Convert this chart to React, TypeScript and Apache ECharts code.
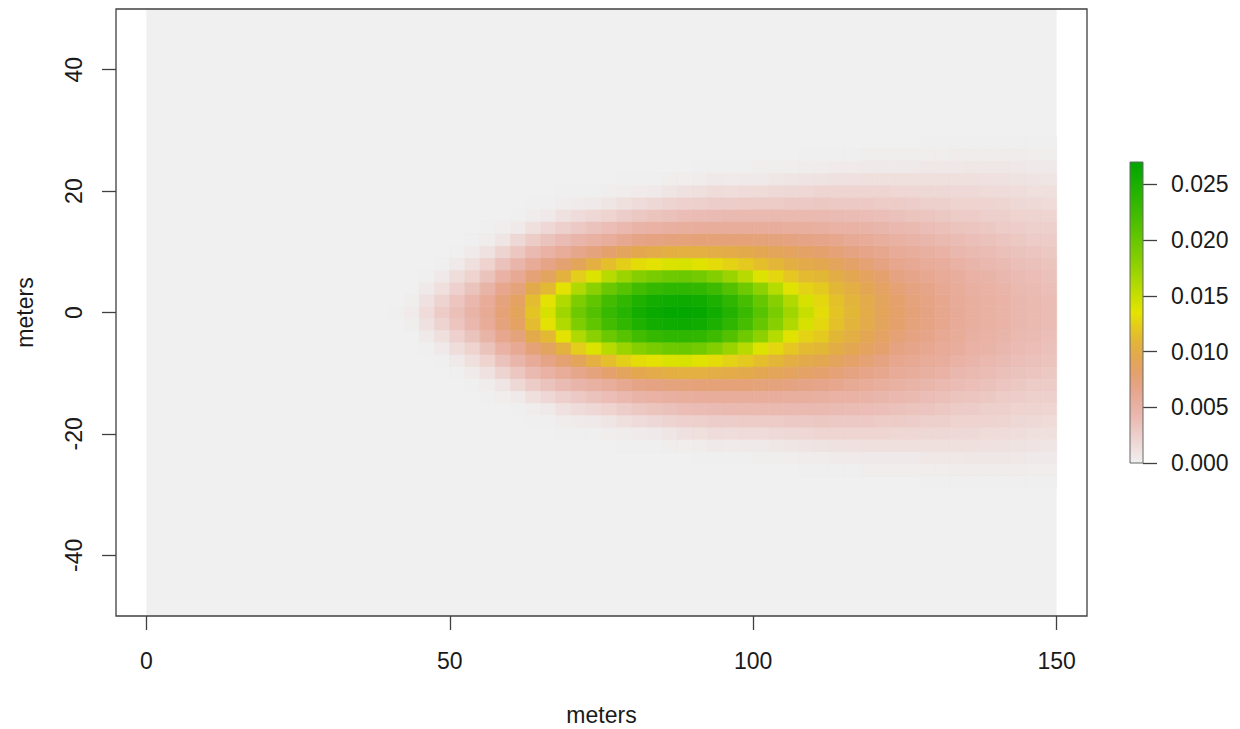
import React, { useEffect, useRef } from 'react';
import * as echarts from 'echarts';

// ---- data ----
// raster columns (cell centres, metres along x)
const X_CENTERS = [
  41.25, 43.75, 46.25, 48.75, 51.25, 53.75, 56.25, 58.75, 61.25, 63.75, 66.25,
  68.75, 71.25, 73.75, 76.25, 78.75, 81.25, 83.75, 86.25, 88.75, 91.25, 93.75,
  96.25, 98.75, 101.25, 103.75, 106.25, 108.75, 111.25, 113.75, 116.25, 118.75,
  121.25, 123.75, 126.25, 128.75, 131.25, 133.75, 136.25, 138.75, 141.25, 143.75,
  146.25, 148.75,
];
// raster rows of the upper half (cell centres, metres along y); the plume is symmetric about y = 0
const Y_HALF = [0, 2, 4, 6, 8, 10, 12, 14, 16, 18, 20, 22, 24, 26, 28, 30, 32];
// values in units of 0.0001, one line per column, from y = 0 outwards (missing = 0)
const PROFILES: number[][] = [
  [1],
  [4, 2],
  [15, 11, 5, 1],
  [27, 21, 12, 5, 1],
  [36, 32, 23, 14, 5, 1],
  [47, 44, 34, 22, 12, 4, 1],
  [60, 57, 47, 34, 22, 11, 3, 1],
  [76, 73, 64, 50, 35, 21, 8, 2],
  [90, 86, 74, 61, 46, 31, 18, 5, 1],
  [118, 113, 98, 76, 58, 42, 27, 12, 3, 1],
  [142, 134, 111, 88, 68, 50, 34, 19, 5, 1],
  [169, 160, 134, 106, 78, 57, 40, 24, 11, 3, 1],
  [196, 187, 161, 123, 91, 65, 46, 29, 15, 4, 1],
  [212, 204, 180, 139, 104, 73, 51, 34, 19, 5, 1],
  [230, 222, 198, 157, 115, 80, 56, 38, 22, 8, 2],
  [241, 233, 210, 171, 124, 89, 62, 43, 26, 12, 3, 1],
  [255, 247, 223, 183, 131, 96, 68, 47, 30, 15, 4, 1],
  [263, 255, 231, 190, 134, 99, 70, 50, 33, 18, 5, 1],
  [267, 259, 235, 196, 140, 103, 73, 52, 35, 21, 8, 2],
  [268, 260, 236, 197, 141, 104, 74, 54, 38, 23, 11, 2],
  [265, 257, 233, 193, 137, 104, 75, 55, 39, 24, 13, 3, 1],
  [257, 249, 225, 184, 131, 102, 75, 56, 40, 26, 15, 5, 1],
  [244, 236, 212, 172, 126, 100, 75, 56, 41, 26, 14, 4, 1],
  [228, 220, 196, 157, 121, 98, 75, 56, 41, 27, 15, 5, 1],
  [209, 201, 178, 139, 115, 95, 74, 56, 42, 28, 16, 5, 2],
  [190, 182, 158, 128, 109, 91, 73, 55, 42, 28, 17, 7, 2],
  [169, 161, 137, 120, 103, 87, 71, 54, 41, 29, 18, 8, 2],
  [150, 142, 126, 112, 98, 84, 68, 53, 41, 29, 19, 9, 3, 1],
  [131, 128, 121, 110, 96, 80, 66, 52, 41, 30, 20, 10, 3, 1],
  [118, 116, 110, 101, 89, 76, 63, 50, 40, 29, 20, 11, 4, 1],
  [110, 108, 103, 95, 83, 71, 60, 49, 39, 29, 20, 11, 4, 1],
  [100, 99, 94, 87, 77, 67, 57, 47, 38, 29, 20, 12, 5, 2],
  [91, 90, 86, 80, 71, 63, 54, 45, 37, 28, 20, 12, 5, 2],
  [82, 81, 77, 71, 64, 58, 51, 43, 35, 27, 19, 12, 5, 2],
  [75, 74, 71, 66, 61, 56, 48, 41, 33, 26, 19, 12, 5, 2],
  [70, 69, 67, 62, 57, 52, 45, 38, 32, 25, 18, 12, 6, 2, 1],
  [64, 63, 61, 58, 55, 49, 42, 36, 30, 24, 18, 12, 6, 2, 1],
  [59, 58, 57, 55, 50, 44, 39, 33, 28, 22, 17, 12, 6, 3, 1],
  [54, 54, 52, 50, 46, 42, 37, 32, 27, 22, 17, 12, 7, 3, 1],
  [51, 51, 49, 47, 43, 39, 35, 30, 25, 21, 16, 11, 7, 3, 1],
  [48, 48, 46, 44, 40, 36, 32, 28, 24, 20, 15, 11, 7, 3, 1],
  [44, 44, 42, 40, 37, 34, 30, 26, 22, 18, 14, 10, 6, 3, 1],
  [42, 42, 40, 38, 35, 32, 28, 25, 21, 17, 13, 9, 5, 2, 1],
  [39, 39, 37, 35, 33, 30, 27, 24, 20, 16, 12, 8, 5, 2, 1],
];
const UNIT = 0.0001;
// raster extent [xmin, ymin, xmax, ymax]
const RASTER_EXTENT = [[0, -50, 150, 50]];
const X_TICKS = [0, 50, 100, 150];
const Y_TICKS = [-40, -20, 0, 20, 40];
const LEGEND_TICKS = [0, 0.005, 0.01, 0.015, 0.02, 0.025];
const LEGEND_MAX = 0.027;

// ---- styling ----
const CELL_W = 2.5;
const CELL_H = 2;
const ZERO_COLOR = '#F0F0F0';
const PALETTE = [
  ZERO_COLOR, '#EFDEDC', '#EDCCC8', '#EABAB2', '#E8AE9E', '#E6A488', '#E4A16C',
  '#E3A752', '#E3B43A', '#E4CA1E', '#E4E400', '#C9DF00', '#ADD900', '#93D200',
  '#7ACC00', '#63C600', '#4DBF00', '#37B900', '#24B300', '#11AC00', '#00A600',
];
const FONT = "'Liberation Sans', Arial, Helvetica, sans-serif";
const TEXT_COLOR = '#1a1a1a';
const LINE_COLOR = '#404040';

export default function App() {
  const ref = useRef<HTMLDivElement>(null);

  useEffect(() => {
    document.body.style.margin = '0';
    const chart = echarts.init(ref.current as HTMLDivElement, null, { renderer: 'svg' });

    const cells: number[][] = [];
    X_CENTERS.forEach((x, i) => {
      const col = PROFILES[i] || [];
      Y_HALF.forEach((y, j) => {
        const v = col[j] ?? 0;
        if (v <= 0) return;
        cells.push([x, y, v * UNIT]);
        if (y !== 0) cells.push([x, -y, v * UNIT]); // mirrored lower half
      });
    });

    const labelStyle = { fontSize: 23, color: TEXT_COLOR, fontFamily: FONT };

    const option: any = {
      animation: false,
      backgroundColor: '#ffffff',
      grid: [
        {
          left: 116, top: 9, width: 971, height: 607,
          outerBoundsMode: 'none', containLabel: false,
          show: true, borderColor: LINE_COLOR, borderWidth: 1.3,
          backgroundColor: 'transparent', z: 10,
        },
        {
          left: 1130, top: 162, width: 13, height: 301,
          outerBoundsMode: 'none', containLabel: false,
          show: true, borderColor: '#666666', borderWidth: 1,
          backgroundColor: 'transparent', z: 10,
        },
      ],
      xAxis: [
        {
          type: 'value', gridIndex: 0, min: -5, max: 155, position: 'bottom',
          splitLine: { show: false },
          axisLine: { show: false, onZero: false },
          axisTick: { show: true, inside: false, length: 14, customValues: X_TICKS, lineStyle: { color: LINE_COLOR, width: 1.3 } },
          axisLabel: { ...labelStyle, customValues: X_TICKS, margin: 33 },
          name: 'meters', nameLocation: 'middle', nameGap: 87,
          nameTextStyle: { ...labelStyle },
        },
        { type: 'value', gridIndex: 1, min: 0, max: 1, show: false, axisLine: { onZero: false } },
      ],
      yAxis: [
        {
          type: 'value', gridIndex: 0, min: -50, max: 50, position: 'left',
          splitLine: { show: false },
          axisLine: { show: false, onZero: false },
          axisTick: { show: true, inside: false, length: 14, customValues: Y_TICKS, lineStyle: { color: LINE_COLOR, width: 1.3 } },
          axisLabel: { ...labelStyle, customValues: Y_TICKS, margin: 31, rotate: 90 },
          name: 'meters', nameLocation: 'middle', nameGap: 80, nameRotate: 90,
          nameTextStyle: { ...labelStyle },
        },
        {
          type: 'value', gridIndex: 1, min: 0, max: LEGEND_MAX, position: 'right',
          splitLine: { show: false },
          axisLine: { show: false, onZero: false },
          axisTick: { show: true, inside: false, length: 14, customValues: LEGEND_TICKS, lineStyle: { color: LINE_COLOR, width: 1.3 } },
          axisLabel: {
            ...labelStyle, customValues: LEGEND_TICKS, margin: 28,
            formatter: (v: number) => v.toFixed(3),
          },
        },
      ],
      visualMap: {
        type: 'continuous', show: false, min: 0, max: LEGEND_MAX,
        dimension: 2, seriesIndex: 1,
        inRange: { color: PALETTE },
      },
      series: [
        {
          type: 'custom', xAxisIndex: 0, yAxisIndex: 0, silent: true, z: 1,
          data: RASTER_EXTENT,
          encode: { x: [0, 2], y: [1, 3] },
          renderItem: (_p: any, api: any) => {
            const a = api.coord([api.value(0), api.value(3)]);
            const b = api.coord([api.value(2), api.value(1)]);
            return {
              type: 'rect',
              shape: { x: a[0], y: a[1], width: b[0] - a[0], height: b[1] - a[1] },
              style: { fill: ZERO_COLOR },
            };
          },
        },
        {
          type: 'custom', xAxisIndex: 0, yAxisIndex: 0, silent: true, z: 2,
          data: cells,
          encode: { x: 0, y: 1 },
          renderItem: (_p: any, api: any) => {
            const x = api.value(0);
            const y = api.value(1);
            const a = api.coord([x - CELL_W / 2, y + CELL_H / 2]);
            const b = api.coord([x + CELL_W / 2, y - CELL_H / 2]);
            const c = api.visual('color');
            return {
              type: 'rect',
              shape: { x: a[0], y: a[1], width: b[0] - a[0], height: b[1] - a[1] },
              style: { fill: c, stroke: c, lineWidth: 0.6 },
            };
          },
        },
        {
          type: 'custom', xAxisIndex: 1, yAxisIndex: 1, silent: true, z: 2,
          data: [[0, 0, 1, LEGEND_MAX]],
          encode: { x: [0, 2], y: [1, 3] },
          renderItem: (_p: any, api: any) => {
            const a = api.coord([api.value(0), api.value(3)]);
            const b = api.coord([api.value(2), api.value(1)]);
            const stops = PALETTE.map((col, k) => ({ offset: k / (PALETTE.length - 1), color: col }));
            return {
              type: 'rect',
              shape: { x: a[0], y: a[1], width: b[0] - a[0], height: b[1] - a[1] },
              style: { fill: new echarts.graphic.LinearGradient(0, 1, 0, 0, stops) },
            };
          },
        },
      ],
    };

    chart.setOption(option);
    return () => chart.dispose();
  }, []);

  return (
    <div
      ref={ref}
      style={{ position: 'fixed', left: 0, top: 0, width: 1240, height: 729, background: '#ffffff' }}
    />
  );
}
